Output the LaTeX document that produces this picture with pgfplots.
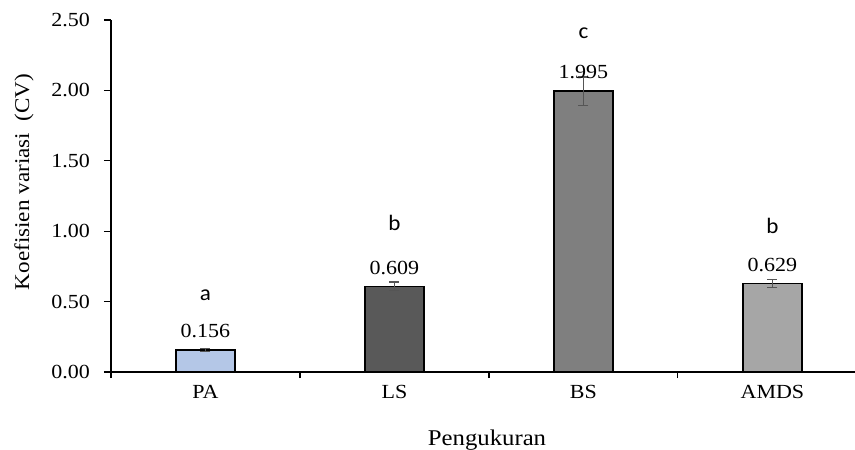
\documentclass[border=0pt]{standalone}
\usepackage{pgfplots}
\pgfplotsset{compat=1.18}
\usepackage{fontspec}
\setmainfont{Liberation Serif}[FakeStretch=1.1]
\newfontfamily\califont{Carlito}[FakeStretch=1.05]
\definecolor{cPA}{HTML}{B4C7E7}
\definecolor{cLS}{HTML}{595959}
\definecolor{cBS}{HTML}{7F7F7F}
\definecolor{cAM}{HTML}{A6A6A6}
\definecolor{errc}{HTML}{555555}
\begin{document}
\begin{tikzpicture}
\begin{axis}[
  at={(0,0)}, anchor=south west,
  scale only axis,
  width=744pt, height=352pt,
  xmin=-0.5, xmax=3.437,
  ymin=0, ymax=2.5,
  axis x line=bottom, axis y line=left,
  axis line style={-, line width=1.1pt, black},
  clip=false,
  ytick={0,0.5,1,1.5,2,2.5},
  yticklabel style={/pgf/number format/fixed, /pgf/number format/fixed zerofill, /pgf/number format/precision=2, /pgf/number format/assume math mode=true},
  yticklabel style={font=\fontsize{20}{22}\selectfont, anchor=east, inner sep=0pt, xshift=-14pt},
  xtick={0,1,2,3},
  xticklabels={PA,LS,BS,AMDS},
  xticklabel style={font=\fontsize{20}{22}\selectfont, anchor=center, yshift=-13pt},
  minor xtick={-0.5,0.5,1.5,2.5},
  major x tick style={draw=none},
  tick align=outside,
  major tick length=7pt,
  minor tick length=6pt,
  tick style={line width=1.1pt, black},
  xlabel={Pengukuran},
  xlabel style={at={(axis description cs:0.5,0)}, anchor=center, yshift=-68pt, xshift=4pt, font=\fontsize{22.5}{26}\selectfont},
  ylabel={Koefisien variasi\ \ (CV)},
  ylabel style={at={(axis description cs:-0.117,0.54)}, anchor=center, font=\fontsize{21}{24}\selectfont},
  every axis plot/.append style={ybar, bar width=59pt, bar shift=0pt, draw=black, line width=1.3pt},
  error bars/error bar style={color=errc, line width=1.1pt},
  error bars/error mark options={rotate=90, mark size=5pt, color=errc, line width=1.1pt},
]
\addplot[fill=cPA, error bars/.cd, y dir=both, y explicit] coordinates {(0,0.156) +- (0,0.008)};
\addplot[fill=cLS, error bars/.cd, y dir=both, y explicit] coordinates {(1,0.609) +- (0,0.03)};
\addplot[fill=cBS, error bars/.cd, y dir=both, y explicit] coordinates {(2,1.995) +- (0,0.1)};
\addplot[fill=cAM, error bars/.cd, y dir=both, y explicit] coordinates {(3,0.629) +- (0,0.03)};
\node[font=\fontsize{20}{22}\selectfont] at (axis cs:0,0.291) {0.156};
\node[font=\fontsize{20}{22}\selectfont] at (axis cs:1,0.739) {0.609};
\node[font=\fontsize{20}{22}\selectfont] at (axis cs:2,2.131) {1.995};
\node[font=\fontsize{20}{22}\selectfont] at (axis cs:3,0.760) {0.629};
\node[font=\califont\fontsize{22}{24}\selectfont] at (axis cs:0,0.547) {a};
\node[font=\califont\fontsize{22}{24}\selectfont] at (axis cs:1,1.058) {b};
\node[font=\califont\fontsize{22}{24}\selectfont] at (axis cs:2,2.408) {c};
\node[font=\califont\fontsize{22}{24}\selectfont] at (axis cs:3,1.035) {b};
\end{axis}
\pgfresetboundingbox
\path[use as bounding box] (-111pt,-78pt) rectangle (744pt,372pt);
\end{tikzpicture}
\end{document}
